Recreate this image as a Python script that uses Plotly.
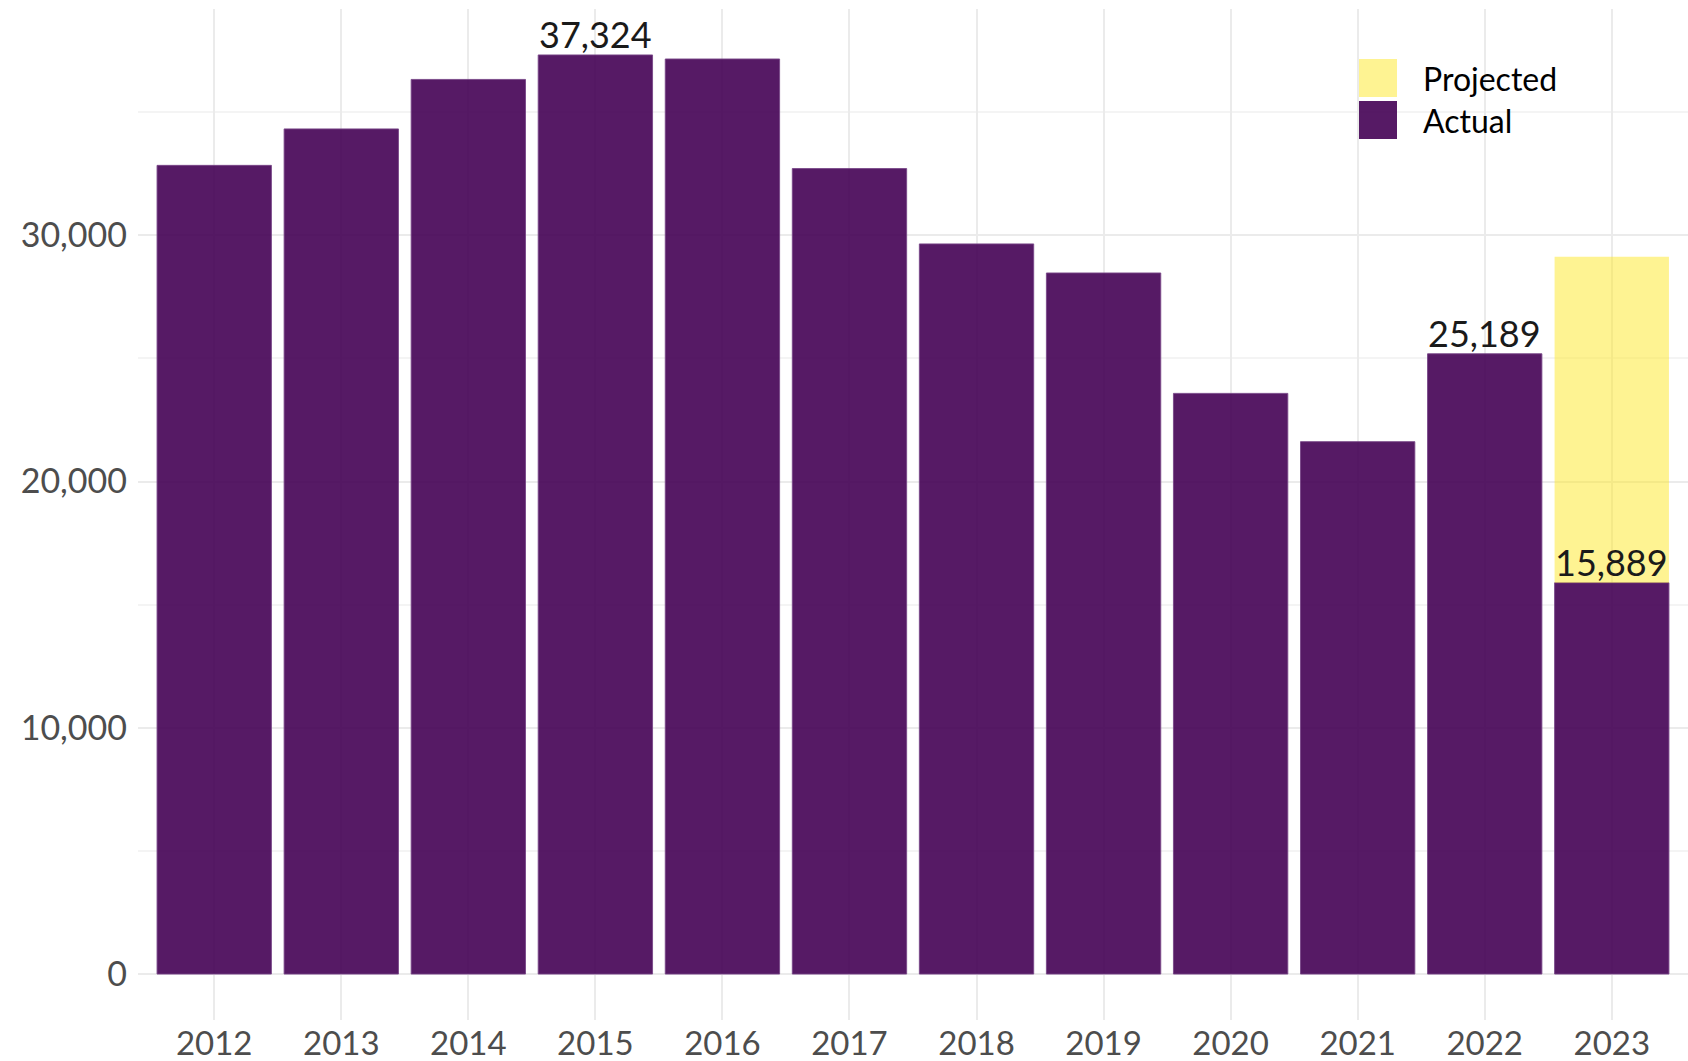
import plotly.graph_objects as go

years = ["2012", "2013", "2014", "2015", "2016", "2017", "2018", "2019", "2020", "2021", "2022", "2023"]
actual = [32840, 34320, 36330, 37324, 37160, 32710, 29650, 28470, 23580, 21620, 25189, 15889]
projected = [None, None, None, None, None, None, None, None, None, None, None, 29130]
label_years = ["2015", "2022", "2023"]
label_values = [37324, 25189, 15889]
y_tickvals = [0, 10000, 20000, 30000]
y_ticktext = ["0", "10,000", "20,000", "30,000"]
y_minor = [5000, 15000, 25000, 35000]
legend_names = ["Projected", "Actual"]

PURPLE = "rgba(68,1,84,0.9)"
YELLOW = "rgba(253,231,37,0.5)"
FONT = "Lato"

# projected part is stacked on top of the actual value
proj_base = [a if p is not None else None for a, p in zip(actual, projected)]
proj_extra = [p - a if p is not None else None for a, p in zip(actual, projected)]

fig = go.Figure()
fig.add_trace(go.Bar(x=years, y=actual, name="Actual",
                     marker=dict(color=PURPLE, line=dict(width=1, color="rgba(120,70,135,0.9)")),
                     width=0.9, showlegend=False))
fig.add_trace(go.Bar(x=years, y=proj_extra, base=proj_base, name="Projected",
                     marker=dict(color=YELLOW, line=dict(width=0)),
                     width=0.9, showlegend=False))

for yr, v in zip(label_years, label_values):
    fig.add_annotation(x=years.index(yr), y=v, text=f"{v:,}", showarrow=False, xanchor="center", yanchor="bottom",
                       font=dict(family=FONT, size=36, color="#1A1A1A"), yshift=-3)

# manual legend (ggplot style keys)
plot_l, plot_r, plot_t, plot_b = 138, 1688, 9, 1020
W = plot_r - plot_l
H = plot_b - plot_t
def px(x):
    return (x - plot_l) / W
def py(y):
    return (plot_b - y) / H

key_colors = [YELLOW, PURPLE]
key_tops = [59, 101]
for name, col, top in zip(legend_names, key_colors, key_tops):
    fig.add_shape(type="rect", xref="paper", yref="paper", x0=px(1359), x1=px(1397), y0=py(top + 38), y1=py(top),
                  fillcolor=col, line=dict(width=0), layer="above")
    fig.add_annotation(xref="paper", yref="paper", x=px(1421), y=py(top + 19), text=name, showarrow=False,
                       xanchor="left", yanchor="middle", font=dict(family=FONT, size=32, color="#000000"))

fig.update_layout(
    width=1688, height=1061,
    margin=dict(l=plot_l, r=1688 - plot_r, t=plot_t, b=1061 - plot_b, autoexpand=False),
    barmode="overlay",
    plot_bgcolor="white", paper_bgcolor="white",
    font=dict(family=FONT),
    showlegend=False,
)
fig.update_xaxes(type="category", range=[-0.6, 11.6], showgrid=True, gridcolor="#EBEBEB", gridwidth=2,
                 ticks="", showline=False, zeroline=False, automargin=False, ticklabelstandoff=1,
                 tickfont=dict(family=FONT, size=33, color="#4D4D4D"))
fig.update_yaxes(range=[-1866, 39190], tickvals=y_tickvals, ticktext=y_ticktext, showgrid=True,
                 gridcolor="#EBEBEB", gridwidth=2, zeroline=False, showline=False, ticks="",
                 automargin=False, ticklabelstandoff=10,
                 tickfont=dict(family=FONT, size=34, color="#4D4D4D"),
                 minor=dict(tickvals=y_minor, showgrid=True, gridcolor="#F4F4F4", gridwidth=1.5))

fig.write_html("out.html", config={"displayModeBar": False},
               post_script="document.body.style.margin='0';document.body.style.overflow='hidden';")
